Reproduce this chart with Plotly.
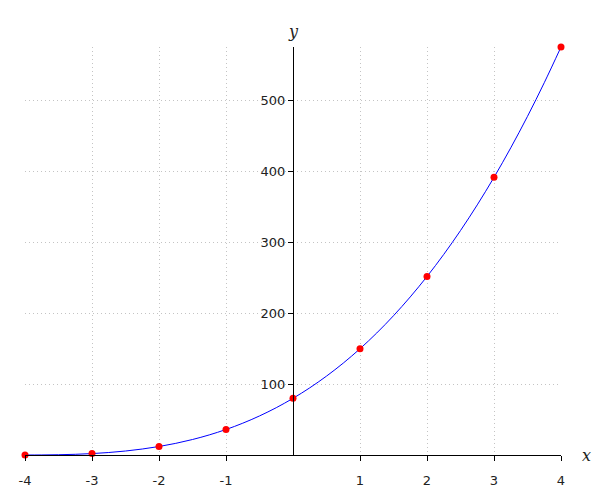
import plotly.graph_objects as go

# Data points (red markers)
point_x = [-4, -3, -2, -1, 0, 1, 2, 3, 4]
point_y = [0, 2, 12, 36, 80, 150, 252, 392, 576]

# Smooth curve samples (blue line)
curve_x = [-4, -3.75, -3.5, -3.25, -3, -2.75, -2.5, -2.25, -2, -1.75, -1.5, -1.25, -1,
           -0.75, -0.5, -0.25, 0, 0.25, 0.5, 0.75, 1, 1.25, 1.5, 1.75, 2, 2.25, 2.5,
           2.75, 3, 3.25, 3.5, 3.75, 4]
curve_y = [0, 0.078, 0.375, 0.984, 2, 3.516, 5.625, 8.422, 12, 16.453, 21.875, 28.359, 36,
           44.891, 55.125, 66.797, 80, 94.828, 111.375, 129.734, 150, 172.266, 196.625,
           223.172, 252, 283.203, 316.875, 353.109, 392, 433.641, 478.125, 525.547, 576]

x_ticks = [-4, -3, -2, -1, 1, 2, 3, 4]
x_tick_labels = ["-4", "-3", "-2", "-1", "1", "2", "3", "4"]
y_ticks = [100, 200, 300, 400, 500]
y_tick_labels = ["100", "200", "300", "400", "500"]

fig = go.Figure()
fig.add_trace(go.Scatter(x=curve_x, y=curve_y, mode="lines",
                         line=dict(color="#0000ff", width=1, shape="spline"),
                         hoverinfo="skip", cliponaxis=False))
fig.add_trace(go.Scatter(x=point_x, y=point_y, mode="markers",
                         marker=dict(color="#ff0000", size=7), cliponaxis=False))

grid = dict(showgrid=True, gridcolor="#c4c4c4", griddash="1px,3px", gridwidth=1)
tickfont = dict(family="DejaVu Sans", size=13, color="#222222")
labelfont = dict(family="DejaVu Serif", size=16, color="#222222")

fig.update_layout(
    width=592, height=492,
    margin=dict(l=17, r=39, t=39, b=45),
    plot_bgcolor="white", paper_bgcolor="white",
    showlegend=False,
    xaxis=dict(range=[-4, 4], tickvals=x_ticks, ticktext=x_tick_labels,
               showline=True, linecolor="black", linewidth=1,
               ticks="outside", ticklen=5, tickcolor="black", automargin=False,
               tickfont=tickfont, zeroline=False, ticklabelstandoff=8, **grid),
    yaxis=dict(range=[0, 576], tickvals=y_ticks, ticktext=y_tick_labels,
               showline=True, linecolor="black", linewidth=1,
               ticks="outside", ticklen=5, tickcolor="black", automargin=False,
               tickfont=tickfont, zeroline=False,
               anchor="free", position=0.5, **grid),
    annotations=[
        dict(text="<i>x</i>", x=1, xref="paper", y=0, yref="paper", xanchor="center",
             yanchor="middle", xshift=25, showarrow=False, font=labelfont),
        dict(text="<i>y</i>", x=0.5, xref="paper", y=1, yref="paper", xanchor="center",
             yanchor="middle", yshift=16, showarrow=False, font=labelfont),
    ],
)

fig.write_html("out.html")
